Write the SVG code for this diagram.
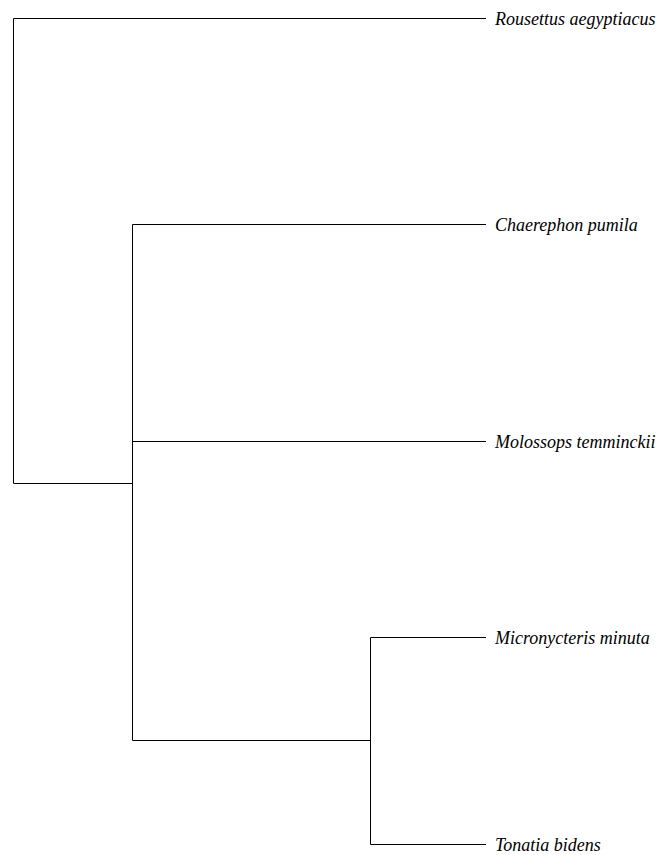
<svg xmlns="http://www.w3.org/2000/svg" width="660" height="855" viewBox="0 0 660 855">
  <style>
    .edge { fill: none; stroke: #000; stroke-width: 1; }
    .leaf { font-family: "Liberation Serif", "Times New Roman", serif; font-style: italic; font-size: 18px; fill: #000; }
  </style>
  <rect width="660" height="855" fill="#fff"/>
  <g id="edges">
    <!-- root -->
    <path class="edge" d="M13.5,18.5 V483.5"/>
    <path class="edge" d="M13.5,18.5 H486"/>
    <path class="edge" d="M13.5,483.5 H132.5"/>
    <!-- inner node -->
    <path class="edge" d="M132.5,224.5 V740.5"/>
    <path class="edge" d="M132.5,224.5 H486"/>
    <path class="edge" d="M132.5,441.5 H486"/>
    <path class="edge" d="M132.5,740.5 H370.5"/>
    <!-- Micronycteris / Tonatia -->
    <path class="edge" d="M370.5,637.5 V844.5"/>
    <path class="edge" d="M370.5,637.5 H486"/>
    <path class="edge" d="M370.5,844.5 H486"/>
  </g>
  <g id="leaf-rousettus"><text class="leaf" x="495" y="25">Rousettus aegyptiacus</text></g>
  <g id="leaf-chaerephon"><text class="leaf" x="495" y="231">Chaerephon pumila</text></g>
  <g id="leaf-molossops"><text class="leaf" x="495" y="448">Molossops temminckii</text></g>
  <g id="leaf-micronycteris"><text class="leaf" x="495" y="644">Micronycteris minuta</text></g>
  <g id="leaf-tonatia"><text class="leaf" x="495" y="851">Tonatia bidens</text></g>
</svg>
